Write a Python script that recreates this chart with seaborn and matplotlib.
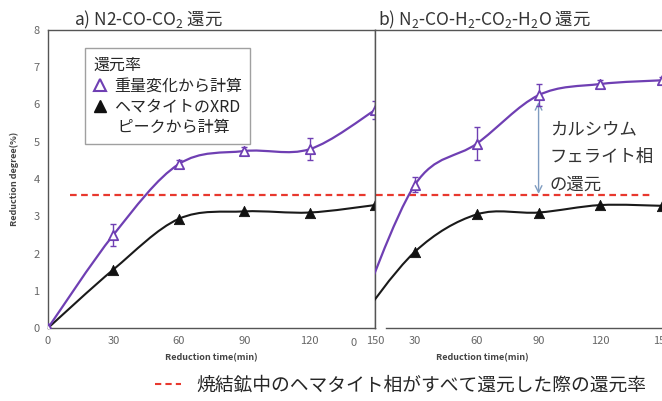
import numpy as np
import seaborn as sns
import matplotlib.pyplot as plt
from matplotlib.path import Path
from matplotlib.patches import PathPatch
from matplotlib.lines import Line2D

# data
time_min = [0, 30, 60, 90, 120, 150]

a_weight = [0.0, 2.5, 4.4, 4.75, 4.8, 5.85]
a_weight_err = [0.0, 0.3, 0.1, 0.1, 0.3, 0.25]
a_xrd = [0.0, 1.57, 2.93, 3.13, 3.1, 3.3]

b_weight = [0.0, 3.85, 4.95, 6.25, 6.55, 6.65]
b_weight_err = [0.0, 0.2, 0.45, 0.3, 0.1, 0.1]
b_xrd = [0.0, 2.05, 3.05, 3.1, 3.3, 3.28]

hematite_full = 3.57
x_ticks = [0, 30, 60, 90, 120, 150]
y_ticks = [0, 1, 2, 3, 4, 5, 6, 7, 8]

purple = '#6F3FB3'
red = '#E8382E'
grey = '#555555'


def smooth_path(xs, ys):
    # Excel-like smoothed line: cubic Bezier with Catmull-Rom control points
    p = np.column_stack([xs, ys]).astype(float)
    ext = np.vstack([p[0], p, p[-1]])
    verts = [p[0]]
    codes = [Path.MOVETO]
    for i in range(len(p) - 1):
        p0, p1, p2, p3 = ext[i], ext[i + 1], ext[i + 2], ext[i + 3]
        c1 = p1 + (p2 - p0) / 6
        c2 = p2 - (p3 - p1) / 6
        verts += [c1, c2, p2]
        codes += [Path.CURVE4] * 3
    return Path(verts, codes)


sns.set_theme(style='white')
plt.rcParams['font.family'] = ['Noto Sans CJK JP', 'DejaVu Sans']
plt.rcParams['mathtext.fontset'] = 'custom'
plt.rcParams['mathtext.rm'] = 'Noto Sans CJK JP'
plt.rcParams['mathtext.it'] = 'Noto Sans CJK JP'

fig = plt.figure(figsize=(6.62, 4.01), dpi=100)
ax1 = fig.add_axes([48 / 662, 73 / 401, 327 / 662, 298 / 401])
ax2 = fig.add_axes([375 / 662, 73 / 401, 290 / 662, 298 / 401])


def draw_panel(ax, weight, err, xrd):
    ax.add_patch(PathPatch(smooth_path(time_min, xrd), fill=False,
                           edgecolor='#1a1a1a', lw=1.5, zorder=3))
    ax.add_patch(PathPatch(smooth_path(time_min, weight), fill=False,
                           edgecolor=purple, lw=1.6, zorder=4))
    ax.errorbar(time_min, weight, yerr=err, fmt='none', ecolor=purple,
                elinewidth=1.0, capsize=2.5, zorder=5)
    sns.scatterplot(x=time_min, y=xrd, marker='^', color='#111111', s=55,
                    edgecolor='#111111', ax=ax, zorder=6)
    sns.scatterplot(x=time_min, y=weight, marker='^', color='white', s=45,
                    edgecolor=purple, linewidth=1.3, ax=ax, zorder=7)
    ax.set_ylim(0, 8)
    ax.set_xticks(x_ticks)
    ax.tick_params(axis='both', direction='in', length=3, color=grey,
                   labelsize=8, labelcolor='#666666', pad=6)
    for s in ax.spines.values():
        s.set_color(grey)
        s.set_linewidth(1.0)
    ax.set_xlabel('Reduction time(min)', fontsize=6.5, fontweight='bold',
                  color='#444444')


draw_panel(ax1, a_weight, a_weight_err, a_xrd)
ax1.set_xlim(0, 150)
ax1.set_yticks(y_ticks)
ax1.set_ylabel('Reduction degree(%)', fontsize=6.5, fontweight='bold',
               color='#444444')
ax1.yaxis.set_label_coords(-0.09, 0.5)
ax1.xaxis.set_label_coords(0.5, -0.085)
ax1.hlines(hematite_full, 10, 146, colors=red, linestyles=(0, (3, 2)), lw=1.6, zorder=2)

draw_panel(ax2, b_weight, b_weight_err, b_xrd)
ax2.set_xlim(10.56, 151.4)
ax2.set_yticks([])
ax2.spines['bottom'].set_bounds(16, 151.4)
ax2.xaxis.set_label_coords(0.37, -0.085)
ax2.hlines(hematite_full, 11, 144, colors=red, linestyles=(0, (3, 2)), lw=1.6, zorder=2)
ax2.text(0, -0.035, '0', transform=ax2.get_xaxis_transform(), ha='center',
         va='top', fontsize=8, color='#666666', clip_on=False)

# arrow for calcium ferrite reduction
ax2.annotate('', xy=(90, hematite_full + 0.03), xytext=(90, 6.07),
             arrowprops=dict(arrowstyle='<->', color='#7F9CC0', lw=1.0,
                             shrinkA=0, shrinkB=0))
ax2.text(95.5, 5.57, 'カルシウム\nフェライト相\nの還元', fontsize=12.5,
         va='top', ha='left', linespacing=1.7, color='#333333')

ax1.set_title('a) N2-CO-CO$_2$ 還元', fontsize=12.5, loc='left', x=0.08,
              pad=3, color='#333333')
ax2.set_title('b) N$_2$-CO-H$_2$-CO$_2$-H$_2$O 還元', fontsize=12.5,
              loc='left', x=0.01, pad=3, color='#333333')

handles = [Line2D([], [], marker='^', ls='none', mfc='white', mec=purple,
                  mew=1.5, ms=8),
           Line2D([], [], marker='^', ls='none', mfc='#111111', mec='#111111',
                  ms=8),
           Line2D([], [], ls='none')]
leg = ax1.legend(handles, ['重量変化から計算', 'ヘマタイトのXRD', ' ピークから計算'],
                 title='還元率', alignment='left', loc='upper left',
                 bbox_to_anchor=(0.09, 0.965), fontsize=11.5,
                 title_fontproperties={'size': 11.5}, frameon=True,
                 fancybox=False, edgecolor='#888888', handlelength=0.8,
                 handletextpad=0.5, borderpad=0.5, labelspacing=0.25)
leg.get_frame().set_linewidth(1.0)

fig.legend([Line2D([], [], color=red, ls=(0, (3, 2)), lw=1.5)],
           ['焼結鉱中のヘマタイト相がすべて還元した際の還元率'],
           loc='center', bbox_to_anchor=(0.605, 0.04), frameon=False,
           fontsize=13.5, handlelength=1.4, handletextpad=0.8)

fig.savefig('out.png', dpi=100)
